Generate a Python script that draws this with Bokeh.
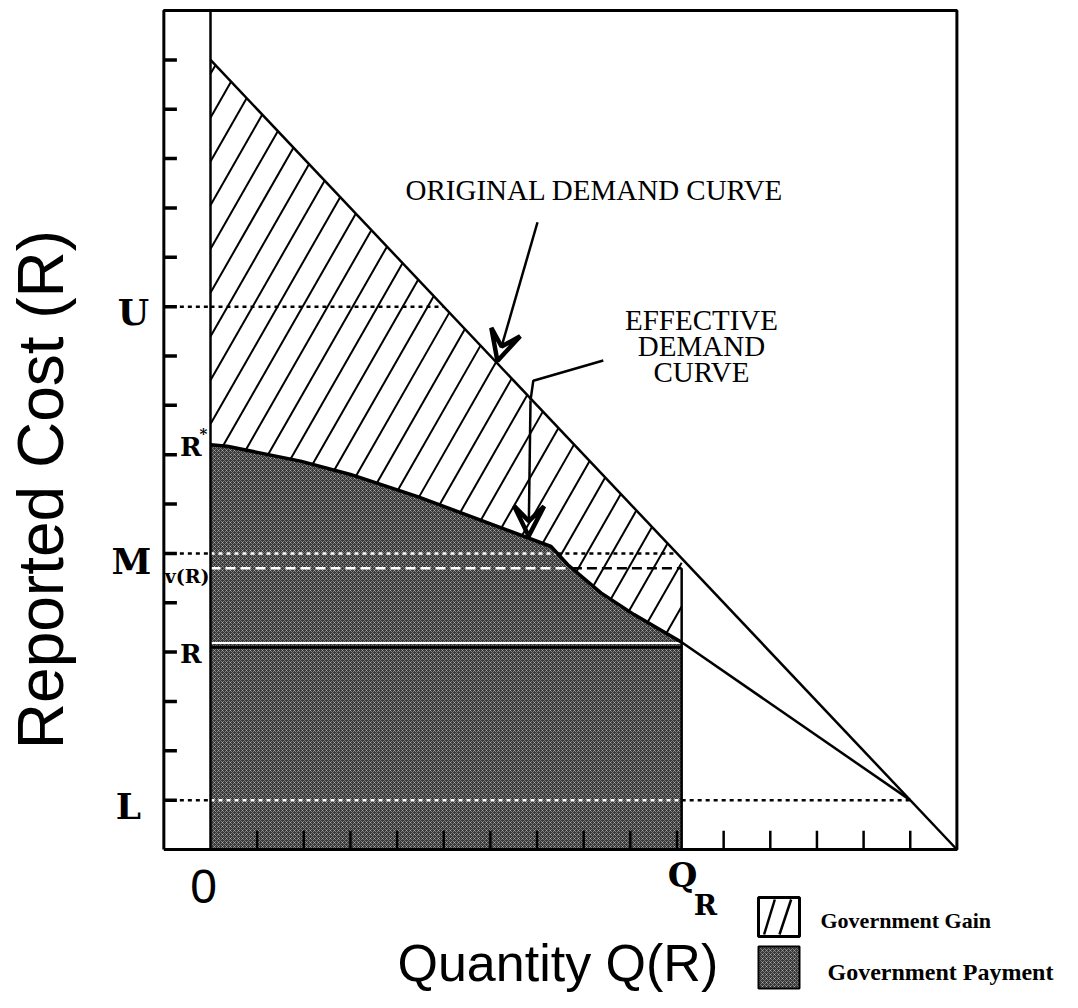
import numpy as np
from bokeh.plotting import figure
from bokeh.models import Range1d, Arrow, VeeHead
from bokeh.core.properties import value
from bokeh.embed import file_html
from bokeh.resources import INLINE

# ---------------- data ----------------
orig_x = [0, 16]                     # original demand curve
orig_y = [16, 0]
eff_x = [0, 0.36, 1.93, 3.0, 4.44, 5.86, 7.3, 7.66, 8.37, 9.08, 10.1]   # effective demand
eff_y = [8.2, 8.17, 7.87, 7.6, 7.15, 6.65, 6.14, 5.77, 5.2, 4.76, 4.2]
lower_x = [10.1, 15]                 # effective demand beyond Q_R
lower_y = [4.2, 1]
Q_R = 10.1
level_names = ["U", "M", "v(R)", "R", "L"]
level_vals = [11, 6, 5.7, 4.1, 1]
r_star = 8.2
y_ticks = list(range(1, 17))
x_ticks = list(range(1, 16))
hatch_slope = 1.654
hatch_step = 0.887
hatch_base = 14.83

# ---------------- figure ----------------
X0PX, XS = 210.0, 46.65   # px of x=0, px per unit
Y0PX, YS = 849.0, 49.35
W, H = 1062, 992
p = figure(width=W, height=H,
           x_range=Range1d((0 - X0PX) / XS, (W - X0PX) / XS),
           y_range=Range1d((Y0PX - H) / YS, Y0PX / YS),
           output_backend="svg", toolbar_location=None,
           x_axis_location=None, y_axis_location=None,
           min_border=0, outline_line_color=None)
p.xgrid.visible = False
p.ygrid.visible = False
p.background_fill_color = "white"
p.border_fill_color = "white"

ex = np.array(eff_x); ey = np.array(eff_y)
DARK = "#383838"

# government payment (dark textured area)
p.patch(x=[0] + eff_x + [Q_R], y=[0] + eff_y + [0],
        fill_color=DARK, line_color=None,
        hatch_pattern="x", hatch_color="white", hatch_alpha=0.45,
        hatch_scale=4, hatch_weight=0.8)

# government gain hatch lines, clipped to region between curves
xs = np.linspace(0, Q_R, 6001)
lo = np.interp(xs, ex, ey)
hi = np.interp(xs, orig_x, orig_y)
hx0, hy0, hx1, hy1 = [], [], [], []
for j in range(-36, 4):
    b = hatch_base + hatch_step * j
    ys = b + hatch_slope * xs
    inside = (ys >= lo) & (ys <= hi)
    idx = np.where(inside)[0]
    if len(idx) > 1:
        hx0.append(xs[idx[0]]); hy0.append(ys[idx[0]])
        hx1.append(xs[idx[-1]]); hy1.append(ys[idx[-1]])
p.segment(x0=hx0, y0=hy0, x1=hx1, y1=hy1, line_color="black", line_width=2)

# level lines
def dark_end(level):
    if level > ey.max():
        return 0.0
    return float(min(Q_R, np.interp(level, ey[::-1], ex[::-1])))

for name, lv in zip(level_names, level_vals):
    x_end = Q_R if name in ("v(R)", "R") else float(np.interp(lv, orig_y[::-1], orig_x[::-1]))
    x_start = 0 if name in ("v(R)", "R") else -1
    de = dark_end(lv)
    if name == "R":
        p.line([0, Q_R], [lv, lv], line_color="black", line_width=3)
        p.line([0, Q_R], [lv + 0.085, lv + 0.085], line_color="white", line_width=2)
        continue
    dash = "10 5" if name == "v(R)" else "4 4"
    if x_start < 0:
        p.line([x_start, 0], [lv, lv], line_color="black", line_width=2.5, line_dash=dash)
    if x_end > de:
        p.line([de, x_end], [lv, lv], line_color="black", line_width=2.5, line_dash=dash)
    if de > 0:
        p.line([0, de], [lv, lv], line_color="white", line_width=2.5, line_dash=dash)

# curves
p.line(orig_x, orig_y, line_color="black", line_width=2.5)
p.line(eff_x, eff_y, line_color="black", line_width=3.5)
p.line(lower_x, lower_y, line_color="black", line_width=2.5)
p.line([Q_R, Q_R], [0, 5.7], line_color="black", line_width=2.5)

# box frame and inner axis
p.line([-1, 16, 16, -1, -1], [0, 0, 17, 17, 0], line_color="black", line_width=3)
p.line([0, 0], [0, 17], line_color="black", line_width=2.5)

# ticks
p.segment(x0=[-1] * len(y_ticks), y0=y_ticks, x1=[-0.72] * len(y_ticks), y1=y_ticks,
          line_color="black", line_width=3.5)
p.segment(x0=x_ticks, y0=[0] * len(x_ticks), x1=x_ticks, y1=[0.38] * len(x_ticks),
          line_color="black", line_width=2.5)

# arrows
p.add_layout(Arrow(end=VeeHead(size=30, line_color="black", line_width=4.5, fill_color=None),
                   x_start=7.01, y_start=12.71, x_end=6.15, y_end=9.9,
                   line_color="black", line_width=2.5))
p.line([8.42, 6.92, 6.86], [9.91, 9.5, 9.1], line_color="black", line_width=2.5)
p.add_layout(Arrow(end=VeeHead(size=30, line_color="black", line_width=4.5, fill_color=None),
                   x_start=6.86, y_start=9.1, x_end=6.82, y_end=6.35,
                   line_color="black", line_width=2.5))

serif = value("Liberation Serif")
slab = value("DejaVu Serif")
sans = value("Liberation Sans")

def px_x(px):
    return (px - X0PX) / XS

def px_y(py):
    return (Y0PX - py) / YS

def txt(x, y, s, font, size, align="center", style="normal", angle=0.0):
    p.text(x=[x], y=[y], text=[s], text_font=font, text_font_size=size,
           text_font_style=style, text_align=align, text_baseline="middle",
           text_color="black", angle=angle)

# annotation texts
txt(px_x(405), px_y(189), "ORIGINAL DEMAND CURVE", serif, "29px", align="left")
for s, cy in zip(["EFFECTIVE", "DEMAND", "CURVE"], [319, 345, 371]):
    txt(px_x(701), px_y(cy), s, serif, "29px")

# y labels
lab_x = [px_x(133), px_x(131), px_x(209), px_x(201), px_x(128)]
lab_y = [px_y(311), px_y(560), px_y(575), px_y(653), px_y(805)]
lab_size = ["36px", "36px", "19px", "26px", "36px"]
for name, lx, ly, ls in zip(level_names, lab_x, lab_y, lab_size):
    txt(lx, ly, name, slab, ls, align="right" if name in ("v(R)", "R") else "center",
        style="bold")
txt(px_x(201), px_y(446), "R", slab, "26px", align="right", style="bold")
txt(px_x(199), px_y(433), "*", slab, "15px", align="left", style="bold")

# x labels
txt(px_x(203), px_y(886), "0", sans, "48px")
txt(px_x(682), px_y(874), "Q", slab, "34px", style="bold")
txt(px_x(705), px_y(905), "R", slab, "28px", style="bold")

# axis titles
txt(px_x(397), px_y(962), "Quantity Q(R)", sans, "52px", align="left")
txt(px_x(40), px_y(489), "Reported Cost (R)", sans, "64px", angle=np.pi / 2)

# legend
sw_l, sw_r = px_x(758), px_x(799)
p.quad(left=[sw_l], right=[sw_r], top=[px_y(897)], bottom=[px_y(936)],
       fill_color="white", line_color="black", line_width=3)
p.segment(x0=[sw_l + 0.12, sw_l + 0.45], y0=[px_y(934), px_y(934)],
          x1=[sw_l + 0.35, sw_l + 0.7], y1=[px_y(899), px_y(899)], line_color="black", line_width=2.5)
p.quad(left=[sw_l], right=[sw_r], top=[px_y(946)], bottom=[px_y(988)],
       fill_color=DARK, line_color="black", line_width=2,
       hatch_pattern="x", hatch_color="white", hatch_alpha=0.45, hatch_scale=4, hatch_weight=0.8)
txt(px_x(820), px_y(920), "Government Gain", serif, "22px", align="left", style="bold")
txt(px_x(827), px_y(971), "Government Payment", serif, "24px", align="left", style="bold")

open("out.html", "w").write(file_html(p, INLINE))
